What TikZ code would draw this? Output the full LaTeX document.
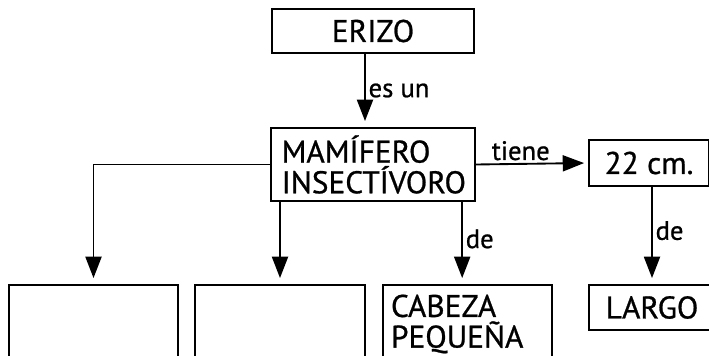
\documentclass[tikz,border=0pt]{standalone}
\usepackage{fontspec}
\setmainfont[FakeBold=0.8]{PT Sans}
\usetikzlibrary{arrows.meta}

\begin{document}
\begin{tikzpicture}
  [x=0.75pt, y=-0.75pt, >={Triangle[length=16pt,width=12pt]},
    every concepto/.style={
      rectangle,
      draw,
      line width=1.4pt,
      inner sep=0pt,
      font=\fontsize{23.5}{23}\selectfont
    },
    flecha/.style={
      ->,
      line width=1.4pt,
      shorten >=4.5pt
    },
    etiqueta/.style={
      font=\fontsize{20}{20}\selectfont,
      inner sep=2pt
    }
  ]
\useasboundingbox (0,0) rectangle (709,356);
\clip (0,0) rectangle (709,356);

% Draw concept boxes
\node [every concepto, minimum width=151.5pt, minimum height=33pt] (erizo) at (373,31) {ERIZO};
\node [every concepto, align=left, inner xsep=8pt, text width=137pt, minimum height=54.75pt]
  (mamifero) at (373,164.5) {MAMÍFERO\\INSECTÍVORO};
\node [every concepto, minimum width=90pt, minimum height=34.5pt] (cm) at (649,163) {22 cm.};
\node [every concepto, minimum width=126.75pt, minimum height=58.5pt] (caja1) at (93.5,324) {};
\node [every concepto, minimum width=127.5pt, minimum height=58.5pt] (caja2) at (280,324) {};
\node [every concepto, align=left, inner xsep=6pt, text width=114.75pt, minimum height=58.5pt]
  (cabeza) at (467.5,324) {CABEZA\\PEQUEÑA};
\node [every concepto, minimum width=94.5pt, minimum height=33.75pt] (largo) at (652,307.5) {LARGO};

% Connect the boxes
\draw [flecha] ([xshift=-6pt]erizo.south) -- ([xshift=-6pt]mamifero.north)
  node [etiqueta, right, midway] {es un};
\draw [flecha] (mamifero.west) -| (caja1.north);
\draw [flecha] (mamifero.south -| caja2.north) -- (caja2.north);
\draw [flecha] ([xshift=-4pt]mamifero.south -| cabeza.north) -- ([xshift=-4pt]cabeza.north)
  node [etiqueta, right, pos=0.45] {de};
\draw [flecha, shorten >=3pt] (mamifero.east) -- (cm.west)
  node [etiqueta, above, pos=0.4] {tiene};
\draw [flecha] (cm.south -| largo.north) -- (largo.north)
  node [etiqueta, right, pos=0.45] {de};
\end{tikzpicture}
\end{document}
